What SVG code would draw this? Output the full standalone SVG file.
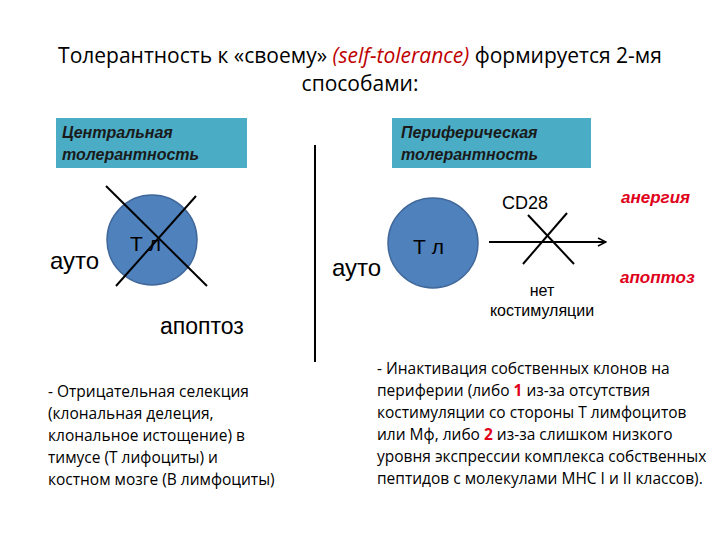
<svg xmlns="http://www.w3.org/2000/svg" width="720" height="540" viewBox="0 0 720 540">
<style>
.t{font-family:"Open Sans","DejaVu Sans",sans-serif;fill:#000}
.a{font-family:"Liberation Sans",Arial,sans-serif;fill:#000}
.h{font-family:"Liberation Sans",Arial,sans-serif;font-style:italic;font-weight:bold;font-size:16px;fill:#1a1a1a}
.r{font-family:"Liberation Sans",Arial,sans-serif;font-style:italic;font-weight:bold;font-size:17px;fill:#e0001a}
.box{fill:#4bacc6}
.cell{fill:#4f81bd;stroke:#41689a;stroke-width:1.5}
.ln{stroke:#000;stroke-width:2}
.s{font-family:"Open Sans","DejaVu Sans",sans-serif;font-size:15.5px;fill:#000}
</style>
<defs><marker id="ar" markerWidth="10" markerHeight="10" refX="9" refY="5" orient="auto" markerUnits="userSpaceOnUse"><path d="M1,1 L9,5 L1,9" fill="none" stroke="#000" stroke-width="1.5"/></marker></defs>
<rect width="720" height="540" fill="#fff"/>
<text class="t" font-size="21" text-anchor="middle"><tspan x="360" y="63">Толерантность к «своему» <tspan fill="#c00000" font-style="italic">(self-tolerance)</tspan> формируется 2-мя</tspan><tspan x="360" y="91">способами:</tspan></text>
<g id="central">
<rect class="box" x="56" y="118" width="191" height="50"/>
<text class="h" x="62" y="138">Центральная</text><text class="h" x="62" y="160">толерантность</text>
</g>
<g id="peripheral">
<rect class="box" x="392" y="118" width="199" height="50"/>
<text class="h" x="401" y="138">Периферическая</text><text class="h" x="401" y="160">толерантность</text>
</g>
<g id="cell1"><circle class="cell" cx="152" cy="240" r="45"/><text class="a" x="130" y="251" font-size="21">Т л</text></g>
<g id="cell2"><circle class="cell" cx="433" cy="243" r="45"/><text class="a" x="413" y="254" font-size="21">Т л</text></g>
<text class="a" x="50" y="269" font-size="24">ауто</text>
<text class="a" x="332" y="276" font-size="24">ауто</text>
<text class="a" x="160" y="334" font-size="23">апоптоз</text>
<text class="a" x="502" y="209" font-size="18">CD28</text>
<text class="a" x="542" y="296" font-size="16" text-anchor="middle">нет</text>
<text class="a" x="542" y="316" font-size="16" text-anchor="middle">костимуляции</text>
<text class="r" x="621" y="203">анергия</text>
<text class="r" x="620" y="283">апоптоз</text>
<g id="connectors">
<line class="ln" x1="106" y1="186" x2="207" y2="286"/>
<line class="ln" x1="116" y1="286" x2="196" y2="196"/>
<line class="ln" x1="315" y1="145" x2="315" y2="362"/>
<line class="ln" x1="489" y1="242" x2="606" y2="242" marker-end="url(#ar)"/>
<line class="ln" x1="528" y1="215" x2="574" y2="264"/>
<line class="ln" x1="523" y1="264" x2="567" y2="213"/>
</g>
<text class="s"><tspan x="48" y="397">- Отрицательная селекция</tspan><tspan x="48" y="419">(клональная делеция,</tspan><tspan x="48" y="441">клональное истощение) в</tspan><tspan x="48" y="463">тимусе (Т лифоциты) и</tspan><tspan x="48" y="485">костном мозге (В лимфоциты)</tspan></text>
<text class="s"><tspan x="377" y="374">- Инактивация собственных клонов на</tspan><tspan x="377" y="396">периферии (либо <tspan fill="#e0001a" font-weight="bold">1</tspan> из-за отсутствия</tspan><tspan x="377" y="418">костимуляции со стороны Т лимфоцитов</tspan><tspan x="377" y="440">или Мф, либо <tspan fill="#e0001a" font-weight="bold">2</tspan> из-за слишком низкого</tspan><tspan x="377" y="462">уровня экспрессии комплекса собственных</tspan><tspan x="377" y="484">пептидов с молекулами МНС I и II классов).</tspan></text>
</svg>
